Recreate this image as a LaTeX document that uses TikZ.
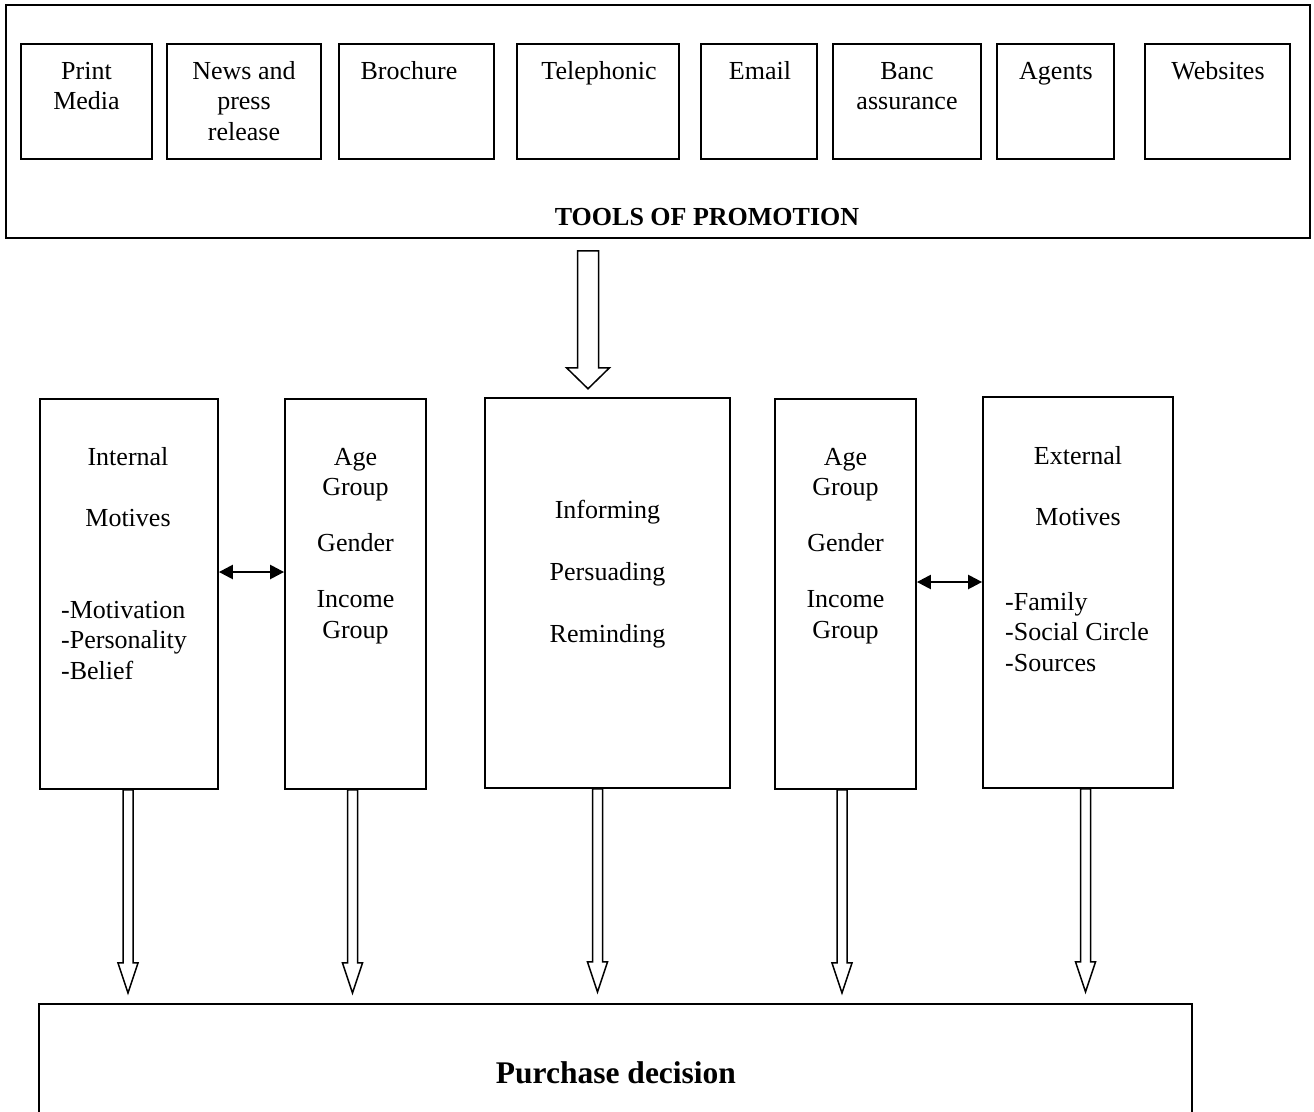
\documentclass[tikz,border=0pt]{standalone}
\usepackage{fontspec}
\setmainfont{Liberation Serif}
\usetikzlibrary{arrows.meta,calc}
\begin{document}
\begin{tikzpicture}[x=1pt,y=-1pt,
  box/.style={draw, line width=1.8pt, inner sep=0pt},
  outerbox/.style={draw, line width=1.5pt, inner sep=0pt},
  txt/.style={font=\fontsize{26}{30.5}\selectfont, inner sep=0pt, align=center, anchor=north},
  listtxt/.style={font=\fontsize{26}{30.5}\selectfont, inner sep=0pt, align=left, anchor=north west},
  hollow/.style={draw, line width=1.5pt, fill=white, line join=miter},
  dbl/.style={line width=2.4pt, {Triangle[length=14pt,width=14pt]}-{Triangle[length=14pt,width=14pt]}}]
\useasboundingbox (0,0) rectangle (1314,1111);
\clip (0,0) rectangle (1314,1111);

% ---- tools of promotion ----
\node[outerbox, minimum width=1304pt, minimum height=233pt] (tools) at (658,121.5) {};
\node[box, minimum width=131pt, minimum height=115pt] (t1) at (86.5,101.5) {};
\node[box, minimum width=154pt, minimum height=115pt] (t2) at (244,101.5) {};
\node[box, minimum width=155pt, minimum height=115pt] (t3) at (416.5,101.5) {};
\node[box, minimum width=162pt, minimum height=115pt] (t4) at (598,101.5) {};
\node[box, minimum width=116pt, minimum height=115pt] (t5) at (759,101.5) {};
\node[box, minimum width=148pt, minimum height=115pt] (t6) at (907,101.5) {};
\node[box, minimum width=117pt, minimum height=115pt] (t7) at (1055.5,101.5) {};
\node[box, minimum width=145pt, minimum height=115pt] (t8) at (1217.5,101.5) {};

\node[txt] (t1l) at (86.5,57.6) {\strut Print\\Media};
\node[txt] (t2l) at (244,57.6) {\strut News and\\press\\release};
\node[txt] (t3l) at (409,57.6) {\strut Brochure};
\node[txt] (t4l) at (599,57.6) {\strut Telephonic};
\node[txt] (t5l) at (760,57.6) {\strut Email};
\node[txt] (t6l) at (907,57.6) {\strut Banc\\assurance};
\node[txt] (t7l) at (1056,57.6) {\strut Agents};
\node[txt] (t8l) at (1218,57.6) {\strut Websites};
\node[font=\fontsize{26}{30.5}\selectfont\bfseries, inner sep=0pt, anchor=base] (toolsl) at (707,225) {TOOLS OF PROMOTION};

% ---- middle row ----
\node[box, minimum width=178pt, minimum height=390pt] (A) at (129,594) {};
\node[box, minimum width=141pt, minimum height=390pt] (B) at (355.5,594) {};
\node[box, minimum width=245pt, minimum height=390pt] (C) at (607.5,593) {};
\node[box, minimum width=141pt, minimum height=390pt] (D) at (845.5,594) {};
\node[box, minimum width=190pt, minimum height=391pt] (E) at (1078,592.5) {};

\node[txt] (Ah) at (128,443.6) {\strut Internal\\[30.5pt]Motives};
\node[listtxt] (Al) at (61,596.6) {\strut -Motivation\\-Personality\\-Belief};
\node[txt] (Bl) at (355.5,443.6) {\strut Age\\Group\\[25.5pt]Gender\\[25.5pt]Income\\Group};
\node[txt] (Cl) at (607.5,496.6) {\strut Informing\\[31.5pt]Persuading\\[31.5pt]Reminding};
\node[txt] (Dl) at (845.5,443.6) {\strut Age\\Group\\[25.5pt]Gender\\[25.5pt]Income\\Group};
\node[txt] (Eh) at (1078,442.6) {\strut External\\[30.5pt]Motives};
\node[listtxt] (El) at (1005,588.6) {\strut -Family\\-Social Circle\\-Sources};

\draw[dbl] (A.east |- 0,572) -- (B.west |- 0,572);
\draw[dbl] (D.east |- 0,582) -- (E.west |- 0,582);

% ---- purchase decision ----
\node[outerbox, minimum width=1153pt, minimum height=126pt] (P) at (615.5,1067) {};
\node[font=\fontsize{31.5}{36}\selectfont\bfseries, inner sep=0pt, anchor=base] (Pl) at (616,1083) {Purchase decision};

% ---- hollow block arrows ----
\draw[hollow] ($(tools.south -| 588,0)+(0,12)$) ++(-10.5,0) -- ++(0,117) -- ++(-11,0)
  -- ++(21.5,21) -- ++(21.5,-21) -- ++(-11,0) -- ++(0,-117) -- cycle;

\foreach \n/\cx in {A/128,B/352.5,C/597.5,D/842,E/1085.5}{
  \draw[hollow] (\n.south -| \cx,0) ++(-5,0) -- ++(0,173) -- ++(-5,0)
    -- ++(10,30) -- ++(10,-30) -- ++(-5,0) -- ++(0,-173) -- cycle;
}
\end{tikzpicture}
\end{document}
